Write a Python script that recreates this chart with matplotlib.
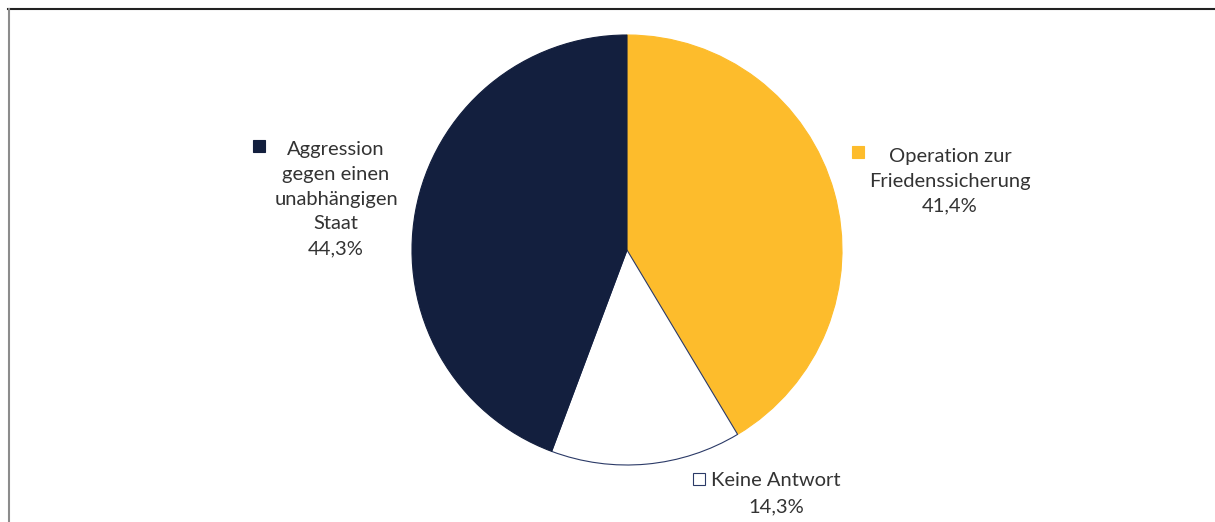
import matplotlib
matplotlib.use("Agg")
import matplotlib.pyplot as plt
from matplotlib.lines import Line2D

plt.rcParams["font.family"] = ["Lato", "DejaVu Sans"]

labels = ["Operation zur\nFriedenssicherung", "Keine Antwort", "Aggression\ngegen einen\nunabhängigen\nStaat"]
shares = [41.4, 14.3, 44.3]
pct_text = ["41,4%", "14,3%", "44,3%"]
colors = ["#FDBC2C", "#FFFFFF", "#131F3E"]
edges = ["#FDBC2C", "#2B3A67", "#131F3E"]

W, H, DPI = 1215, 522, 100
CX, CY, R = 627, 250, 215  # pie centre / radius in pixels (from top-left)

fig = plt.figure(figsize=(W / DPI, H / DPI), dpi=DPI)
ax = fig.add_axes([0, 0, 1, 1])

wedges, _ = ax.pie(shares, colors=colors, startangle=90, counterclock=False,
                   radius=1.0, wedgeprops={"linewidth": 0.8})
for w, ec in zip(wedges, edges):
    w.set_edgecolor(ec)

ax.set_aspect("auto")
ax.set_xlim((0 - CX) / R, (W - CX) / R)
ax.set_ylim((CY - H) / R, CY / R)
ax.axis("off")


def px(x, y):
    return (x - CX) / R, (CY - y) / R


txt = "#333333"
fs = 14.5
# label text blocks (centre positions in pixel space)
label_pos = [(950, 181), (776, 493), (336, 199)]
marker_pos = [(858, 152), (699, 479), (259, 146)]

for i, (lab, pct) in enumerate(zip(labels, pct_text)):
    if i == 1:
        # first line sits beside the marker
        x, y = px(776, 480)
        ax.text(x, y, lab, ha="center", va="center", fontsize=fs, color=txt)
        x, y = px(776, 507)
        ax.text(x, y, pct, ha="center", va="center", fontsize=fs, color=txt)
    else:
        x, y = px(*label_pos[i])
        ax.text(x, y, lab + "\n" + pct, ha="center", va="center", fontsize=fs,
                color=txt, linespacing=1.55)
    mx, my = px(*marker_pos[i])
    ax.plot(mx, my, marker="s", markersize=8.5, markerfacecolor=colors[i],
            markeredgecolor=edges[i], markeredgewidth=0.8, linestyle="none")

# partial frame (top + left)
fig.add_artist(Line2D([8 / W, 1], [1 - 8.5 / H, 1 - 8.5 / H], color="#222222", linewidth=1.5))
fig.add_artist(Line2D([8.5 / W, 8.5 / W], [0, 1 - 8.5 / H], color="#8C8C8C", linewidth=1.5))

fig.savefig("out.png", dpi=DPI)
